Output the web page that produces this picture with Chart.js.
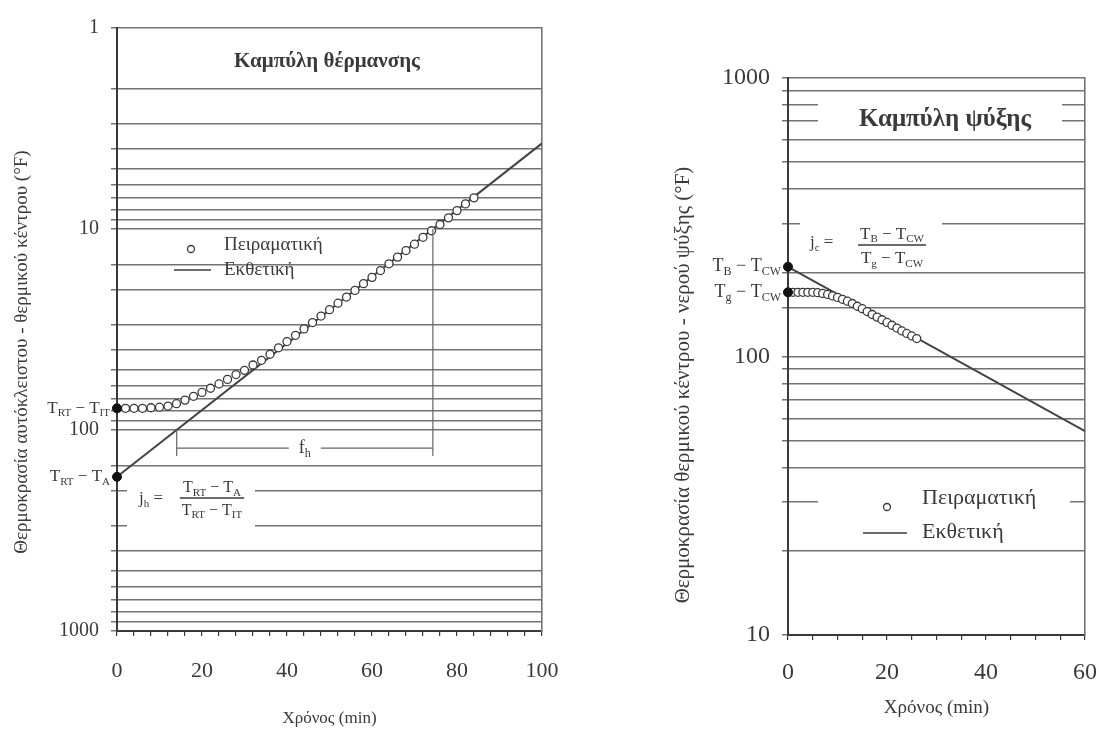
<!DOCTYPE html>
<html>
<head>
<meta charset="utf-8">
<script src="https://cdn.jsdelivr.net/npm/chart.js@4.4.1/dist/chart.umd.min.js"></script>
<style>
  html, body { margin: 0; padding: 0; background: #fff; }
  #wrap { position: relative; width: 1101px; height: 733px; }
  .box { position: absolute; top: 0; height: 733px; }
  #left { left: 0; width: 570px; }
  #right { left: 570px; width: 531px; }
</style>
</head>
<body>
<div id="wrap">
  <div class="box" id="left"><canvas id="heatCanvas"></canvas></div>
  <div class="box" id="right"><canvas id="coolCanvas"></canvas></div>
</div>
<script>
// Καμπύλη θέρμανσης (αριστερά)
const heatTime = [0, 2, 4, 6, 8, 10, 12, 14, 16, 18, 20, 22, 24, 26, 28, 30, 32, 34, 36, 38, 40,
                  42, 44, 46, 48, 50, 52, 54, 56, 58, 60, 62, 64, 66, 68, 70, 72, 74, 76, 78, 80, 82, 84];
const heatExp = [78, 78, 78, 78, 77.5, 77, 76, 74, 71, 68, 65, 62, 59, 56, 53, 50.5, 47.5, 45, 42, 39, 36.3,
                 33.8, 31.4, 29.2, 27.1, 25.2, 23.4, 21.8, 20.2, 18.7, 17.4, 16.1, 14.9, 13.8, 12.8, 11.9, 11.0, 10.2, 9.5, 8.8, 8.1, 7.5, 7.0];
const heatFitTime = [0, 100];
const heatFit = [171, 3.75];
const heatTicksX = [0, 20, 40, 60, 80, 100];
const heatTicksY = [1, 10, 100, 1000];

// Καμπύλη ψύξης (δεξιά)
const coolTime = [0, 1, 2, 3, 4, 5, 6, 7, 8, 9, 10, 11, 12, 13, 14, 15, 16, 17, 18, 19, 20, 21, 22, 23, 24, 25, 26];
const coolExp = [170, 170, 170, 170, 170, 170, 169.5, 168.5, 167, 165, 163, 160.5, 158, 155, 151.5, 148.5,
                 145, 141.5, 138.5, 135.5, 132.5, 129.5, 126.5, 123.5, 121, 118.5, 116];
const coolFitTime = [0, 60];
const coolFit = [210, 54];
const coolTicksX = [0, 20, 40, 60];
const coolTicksY = [10, 100, 1000];

const SERIF = '"Liberation Serif", "Times New Roman", serif';
const INK = '#3a3a3a';
const GRID = '#737373';

const pts = (xs, ys) => xs.map((t, i) => ({ x: t, y: ys[i] }));
const font = (size, bold) => (bold ? 'bold ' : '') + size + 'px ' + SERIF;

// χρόνος όπου η εκθετική ευθεία περνά από μια τιμή
function timeAt(v, ts, ys) {
  const a = Math.log10(ys[0]), b = Math.log10(ys[1]);
  return ts[0] + (ts[1] - ts[0]) * (a - Math.log10(v)) / (a - b);
}

function richWidth(ctx, parts, size) {
  let w = 0;
  for (const [s, sub] of parts) { ctx.font = font(sub ? Math.round(size * 0.66) : size); w += ctx.measureText(s).width; }
  return w;
}
function richText(ctx, parts, x, y, size, align) {
  const w = richWidth(ctx, parts, size);
  let cx = align === 'right' ? x - w : align === 'center' ? x - w / 2 : x;
  ctx.fillStyle = INK;
  ctx.textAlign = 'left';
  ctx.textBaseline = 'middle';
  for (const [s, sub] of parts) {
    ctx.font = font(sub ? Math.round(size * 0.66) : size);
    ctx.fillText(s, cx, sub ? y + size * 0.3 : y);
    cx += ctx.measureText(s).width;
  }
}
function fraction(ctx, num, den, cx, y, size) {
  const w = Math.max(richWidth(ctx, num, size), richWidth(ctx, den, size)) + 4;
  ctx.strokeStyle = INK;
  ctx.lineWidth = 1.3;
  ctx.beginPath(); ctx.moveTo(cx - w / 2, y); ctx.lineTo(cx + w / 2, y); ctx.stroke();
  richText(ctx, num, cx, y - size * 0.62, size, 'center');
  richText(ctx, den, cx, y + size * 0.8, size, 'center');
}
function whiteBox(ctx, x, y, w, h) { ctx.fillStyle = '#fff'; ctx.fillRect(x, y, w, h); }
function vText(ctx, text, x, y, size) {
  ctx.save();
  ctx.translate(x, y);
  ctx.rotate(-Math.PI / 2);
  ctx.font = font(size);
  ctx.fillStyle = INK;
  ctx.textAlign = 'center';
  ctx.textBaseline = 'middle';
  ctx.fillText(text, 0, 0);
  ctx.restore();
}
function legend(ctx, cx, cy, lx0, lx1, ly, tx, ty1, ty2, size) {
  ctx.strokeStyle = INK;
  ctx.lineWidth = 1.3;
  ctx.beginPath(); ctx.arc(cx, cy, 3.5, 0, Math.PI * 2); ctx.stroke();
  ctx.lineWidth = 1.5;
  ctx.beginPath(); ctx.moveTo(lx0, ly); ctx.lineTo(lx1, ly); ctx.stroke();
  ctx.font = font(size);
  ctx.fillStyle = INK;
  ctx.textAlign = 'left';
  ctx.textBaseline = 'middle';
  ctx.fillText('Πειραματική', tx, ty1);
  ctx.fillText('Εκθετική', tx, ty2);
}

const T_RT_IT = [['T'], ['RT', 1], [' − T'], ['IT', 1]];
const T_RT_A = [['T'], ['RT', 1], [' − T'], ['A', 1]];
const T_B_CW = [['T'], ['B', 1], [' − T'], ['CW', 1]];
const T_G_CW = [['T'], ['g', 1], [' − T'], ['CW', 1]];

const fhStart = timeAt(100, heatFitTime, heatFit);
const fhEnd = timeAt(10, heatFitTime, heatFit);
const FH_LEVEL = 123;

const heatNotes = {
  id: 'heatNotes',
  beforeDatasetsDraw(chart) {
    const { ctx, chartArea: a } = chart;
    whiteBox(ctx, a.left + 10, a.top + 449, 128, 50);
  },
  afterDatasetsDraw(chart) {
    const { ctx, chartArea: a, scales: { x, y } } = chart;
    ctx.save();
    // f_h
    const xs = x.getPixelForValue(fhStart), xe = x.getPixelForValue(fhEnd);
    const xm = (xs + xe) / 2, yb = y.getPixelForValue(FH_LEVEL);
    ctx.strokeStyle = '#666';
    ctx.lineWidth = 1.2;
    ctx.beginPath();
    ctx.moveTo(xs, y.getPixelForValue(100)); ctx.lineTo(xs, yb + 8);
    ctx.moveTo(xe, y.getPixelForValue(10)); ctx.lineTo(xe, yb + 8);
    ctx.moveTo(xs, yb); ctx.lineTo(xm - 16, yb);
    ctx.moveTo(xm + 16, yb); ctx.lineTo(xe, yb);
    ctx.stroke();
    richText(ctx, [['f'], ['h', 1]], xm, yb, 18, 'center');

    richText(ctx, T_RT_IT, x.left - 7, y.getPixelForValue(heatExp[0]), 17, 'right');
    richText(ctx, T_RT_A, x.left - 7, y.getPixelForValue(heatFit[0]), 17, 'right');

    richText(ctx, [['j'], ['h', 1], [' =']], a.left + 22, a.top + 471, 17, 'left');
    fraction(ctx, T_RT_A, T_RT_IT, a.left + 95, a.top + 470, 16);

    legend(ctx, a.left + 74, a.top + 221, a.left + 57, a.left + 94, a.top + 242, a.left + 107, a.top + 217, a.top + 242, 19);

    ctx.font = font(21, true);
    ctx.fillStyle = INK;
    ctx.textAlign = 'center';
    ctx.textBaseline = 'middle';
    ctx.fillText('Καμπύλη θέρμανσης', a.left + 210, a.top + 34);

    vText(ctx, 'Θερμοκρασία αυτόκλειστου - θερμικού κέντρου (°F)', 22, 352, 19);
    ctx.restore();
  }
};

const coolNotes = {
  id: 'coolNotes',
  beforeDatasetsDraw(chart) {
    const { ctx, chartArea: a } = chart;
    whiteBox(ctx, a.left + 30, a.top + 22, 244, 38);
    whiteBox(ctx, a.left + 12, a.top + 136, 142, 52);
    whiteBox(ctx, a.left + 30, a.top + 406, 252, 64);
  },
  afterDatasetsDraw(chart) {
    const { ctx, chartArea: a, scales: { x, y } } = chart;
    ctx.save();
    richText(ctx, T_B_CW, x.left - 7, y.getPixelForValue(coolFit[0]), 18, 'right');
    richText(ctx, T_G_CW, x.left - 7, y.getPixelForValue(coolExp[0]), 18, 'right');

    richText(ctx, [['j'], ['c', 1], [' =']], a.left + 22, a.top + 165, 17, 'left');
    fraction(ctx, T_B_CW, T_G_CW, a.left + 104, a.top + 167, 17);

    legend(ctx, a.left + 99, a.top + 429, a.left + 75, a.left + 119, a.top + 455, a.left + 134, a.top + 420, a.top + 454, 22);

    ctx.font = font(25, true);
    ctx.fillStyle = INK;
    ctx.textAlign = 'center';
    ctx.textBaseline = 'middle';
    ctx.fillText('Καμπύλη ψύξης', a.left + 157, a.top + 42);

    vText(ctx, 'Θερμοκρασία θερμικού κέντρου - νερού ψύξης (°F)', 113, 385, 21);
    ctx.restore();
  }
};

function panel(canvasId, cfg) {
  const ctx = document.getElementById(canvasId).getContext('2d');
  return new Chart(ctx, {
    type: 'scatter',
    data: {
      datasets: [
        {   // σημεία τομής στον άξονα
          data: [{ x: 0, y: cfg.exp[0] }, { x: 0, y: cfg.fit[0] }],
          pointRadius: 4.5, pointBackgroundColor: '#111', pointBorderColor: '#111', clip: false
        },
        {
          label: 'Πειραματική',
          data: pts(cfg.time, cfg.exp),
          pointRadius: cfg.r, pointBorderWidth: 1.3,
          pointBorderColor: INK, pointBackgroundColor: '#fff', clip: false
        },
        {
          label: 'Εκθετική',
          data: pts(cfg.fitTime, cfg.fit),
          showLine: true, pointRadius: 0, borderColor: '#444', borderWidth: 2
        }
      ]
    },
    options: {
      responsive: true,
      maintainAspectRatio: false,
      animation: false,
      layout: { padding: cfg.padding },
      plugins: { legend: { display: false }, tooltip: { enabled: false } },
      scales: {
        x: {
          type: 'linear', min: 0, max: cfg.xMax,
          ticks: {
            stepSize: cfg.xStep, autoSkip: false, maxRotation: 0, padding: cfg.xPad,
            color: INK, font: { family: SERIF, size: cfg.tickSize },
            callback: v => cfg.ticksX.includes(v) ? String(v) : ''
          },
          grid: { drawOnChartArea: false, tickLength: 5, color: INK, lineWidth: 1.2 },
          border: { color: INK, width: 2 },
          title: {
            display: true, text: 'Χρόνος (min)', color: INK,
            font: { family: SERIF, size: cfg.titleSize }, padding: { top: 0, bottom: 4 }
          },
          afterFit: s => { s.height = cfg.xHeight; s.paddingLeft = 0; s.paddingRight = 0; }
        },
        y: {
          type: 'logarithmic', min: cfg.yMin, max: cfg.yMax, reverse: cfg.reverse,
          ticks: {
            autoSkip: false, padding: 12, color: INK, font: { family: SERIF, size: cfg.yTickSize },
            callback: v => cfg.ticksY.includes(v) ? String(v) : ''
          },
          grid: { color: GRID, lineWidth: 1.5, tickLength: 6 },
          border: { color: INK, width: 2 },
          afterFit: s => { s.width = cfg.yWidth; }
        },
        y2: {
          type: 'logarithmic', position: 'right', min: cfg.yMin, max: cfg.yMax, reverse: cfg.reverse,
          ticks: { display: false },
          grid: { display: false },
          border: { display: true, color: GRID, width: 1.6, dash: [36, 8] },
          afterFit: s => { s.width = 0; }
        }
      }
    },
    plugins: [cfg.notes]
  });
}

panel('heatCanvas', {
  time: heatTime, exp: heatExp, fitTime: heatFitTime, fit: heatFit,
  ticksX: heatTicksX, ticksY: heatTicksY, xMax: 100, xStep: 4,
  yMin: 1, yMax: 1000, reverse: true, r: 4,
  padding: { left: 6, right: 28, top: 28, bottom: 0 },
  yWidth: 111, xHeight: 102, xPad: 22, tickSize: 22, yTickSize: 20, titleSize: 17,
  notes: heatNotes
});

panel('coolCanvas', {
  time: coolTime, exp: coolExp, fitTime: coolFitTime, fit: coolFit,
  ticksX: coolTicksX, ticksY: coolTicksY, xMax: 60, xStep: 5,
  yMin: 10, yMax: 1000, reverse: false, r: 4,
  padding: { left: 106, right: 16, top: 78, bottom: 10 },
  yWidth: 112, xHeight: 88, xPad: 18, tickSize: 24, yTickSize: 24, titleSize: 19,
  notes: coolNotes
});
</script>
</body>
</html>
